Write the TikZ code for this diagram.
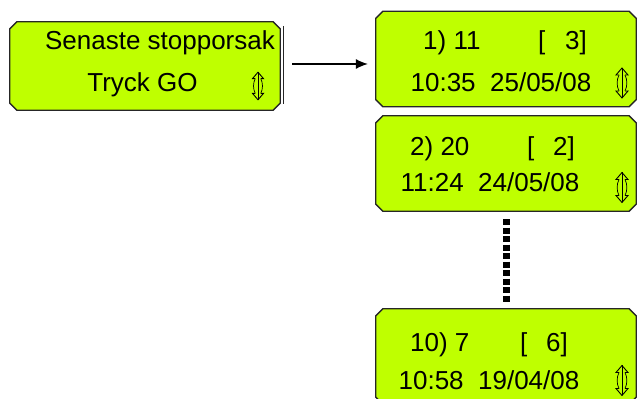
\documentclass[tikz,border=0pt]{standalone}
\usepackage{fontspec}
\setmainfont{Liberation Sans}
\usetikzlibrary{positioning,calc,arrows.meta}

\definecolor{lcdgreen}{RGB}{191,255,0}

\tikzset{
  lcd/.style={rectangle, inner sep=0pt, draw=none},
  lcdframe/.style={draw=black!85, line width=1.3pt, fill=lcdgreen},
  lcdtext/.style={inner sep=0pt, font=\fontsize{26}{30}\selectfont},
  updown/.pic={
    \draw[line width=0.9pt] (0,-15) -- (0,15);
    \draw[line width=0.9pt] (-3,8) -- (-6,8) -- (0,15) -- (6,8) -- (3,8);
    \draw[line width=0.9pt] (-3,-8) -- (-6,-8) -- (0,-15) -- (6,-8) -- (3,-8);
    \draw[line width=0.7pt] (-3,8) .. controls (-5.5,3) and (-5.5,-3) .. (-3,-8);
    \draw[line width=0.7pt] (3,8) .. controls (5.5,3) and (5.5,-3) .. (3,-8);
  }
}
% chamfered outline around a named node
\newcommand{\lcdbox}[1]{%
  \draw[lcdframe] ([xshift=7pt]#1.north west) -- ([xshift=-7pt]#1.north east)
    -- ([yshift=-7pt]#1.north east) -- ([yshift=7pt]#1.south east)
    -- ([xshift=-7pt]#1.south east) -- ([xshift=7pt]#1.south west)
    -- ([yshift=7pt]#1.south west) -- ([yshift=-7pt]#1.north west) -- cycle;}

\begin{document}
\begin{tikzpicture}[x=1pt,y=1pt]
  \useasboundingbox (0,0) rectangle (638,399);
  \clip (0,0) rectangle (638,399);
  % menu screen
  \node[lcd, minimum width=270pt, minimum height=88pt] (menu) at (145,333) {};
  \lcdbox{menu}
  \draw[line width=1pt,black!85] ([shift={(3,40)}]menu.east) -- ([shift={(3,-38)}]menu.east);
  \node[lcdtext, anchor=base] (menua) at (160,349) {Senaste stopporsak};
  \node[lcdtext, anchor=base] (menub) at (142.5,307) {Tryck GO};
  \pic[scale=0.92] at (258,313) {updown};
  % stop records
  \foreach \k/\yc/\ba/\bb/\xa/\xbr/\xe/\xm/\ta/\tb/\tc in {
      1/340/349/307/423/538/587/501/{1) 11}/{3]}/{10:35\ \ 25/05/08},
      2/235.5/243/207/410/527/575/490/{2) 20}/{2]}/{11:24\ \ 24/05/08},
      10/42.5/47/9/410/520/568/489/{10) 7}/{6]}/{10:58\ \ 19/04/08}} {
    \node[lcd, minimum width=260pt, minimum height=95pt] (c\k) at (506,\yc) {};
    \lcdbox{c\k}
    \node[lcdtext, anchor=base west] (c\k a) at (\xa,\ba) {\ta};
    \node[lcdtext, anchor=base west] (c\k b) at (\xbr,\ba) {[};
    \node[lcdtext, anchor=base east] (c\k c) at (\xe,\ba) {\tb};
    \node[lcdtext, anchor=base] (c\k d) at (\xm,\bb) {\tc};
    \pic at (622,\yc-24) {updown};
  }
  % connectors
  \draw[-{Latex[length=12pt,width=10pt]}, line width=1.1pt, shorten <=12pt, shorten >=8pt]
    ([yshift=2pt]menu.east) -- ([yshift=2pt]menu.east -| c1.west);
  \draw[line width=7pt, dash pattern=on 6pt off 2.5pt, shorten <=8pt, shorten >=5pt] (c2.south) -- (c10.north);
\end{tikzpicture}
\end{document}
